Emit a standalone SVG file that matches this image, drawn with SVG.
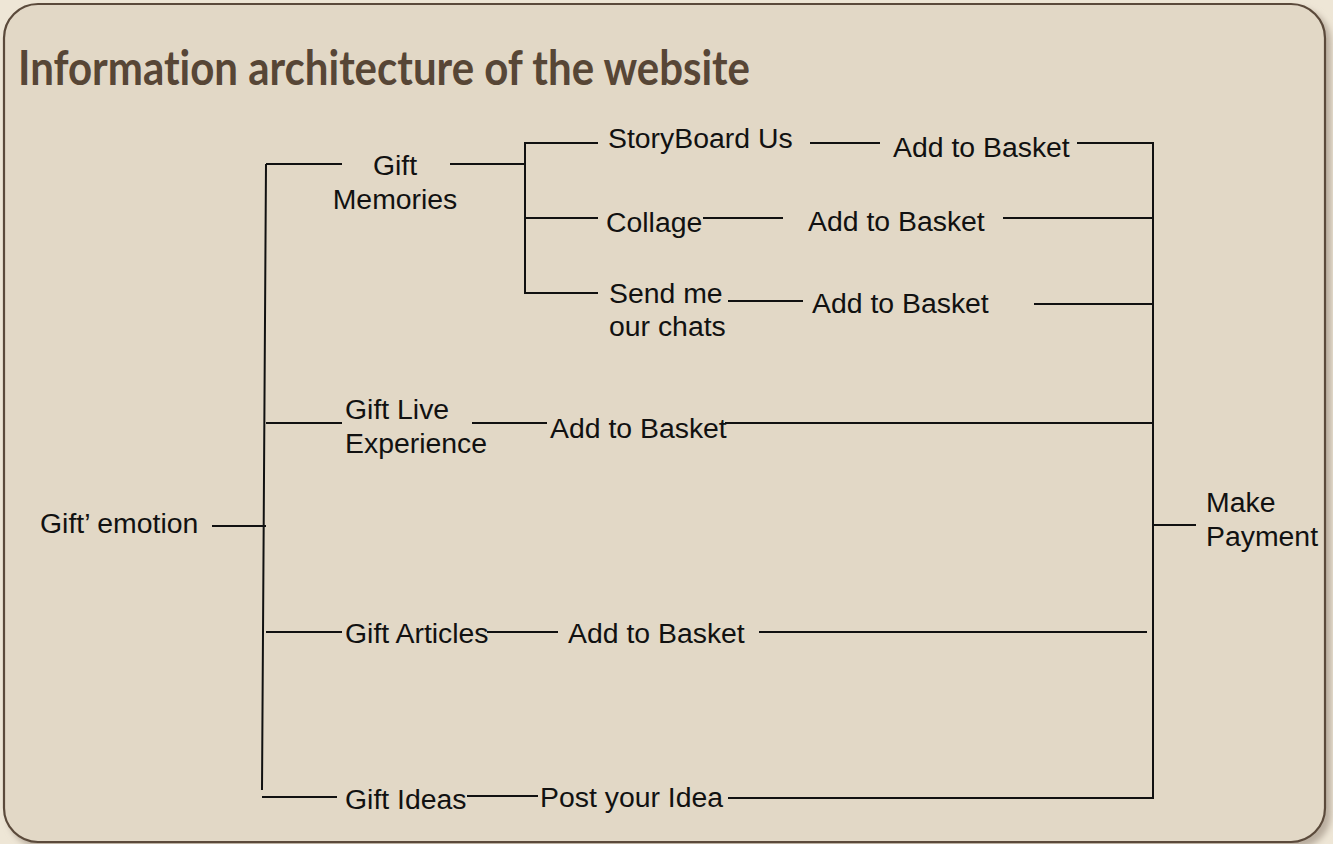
<svg xmlns="http://www.w3.org/2000/svg" width="1333" height="844" viewBox="0 0 1333 844">
  <defs>
    <filter id="panelShadow" x="-5%" y="-5%" width="110%" height="110%">
      <feGaussianBlur stdDeviation="3"/>
    </filter>
  </defs>
  <style>
    .panel { fill: #e2d8c6; stroke: #5b4a3b; stroke-width: 2.2; }
    .title { font-family: Lato, "Open Sans", "Liberation Sans", sans-serif; font-weight: 700; font-size: 48px; fill: #574636; font-variant-ligatures: none; }
    .lbl { font-family: "Liberation Sans", Arial, sans-serif; font-size: 28.4px; fill: #111111; }
    .mid { text-anchor: middle; }
    .wire { fill: none; stroke: #111111; stroke-width: 2; stroke-linecap: butt; }
  </style>

  <!-- page background and framed panel -->
  <rect x="0" y="0" width="1333" height="844" fill="#eee6d6"/>
  <rect x="8" y="8" width="1323" height="840" rx="34" fill="#b9ad9f" filter="url(#panelShadow)"/>
  <rect class="panel" x="4" y="4" width="1321" height="838" rx="34"/>

  <text class="title" x="18" y="85" textLength="732" lengthAdjust="spacingAndGlyphs">Information architecture of the website</text>

  <!-- connectors -->
  <g id="connectors">
    <path class="wire" d="M266 164 L262 790
      M266 164 H342
      M450 164 H525
      M525 142 V294
      M525 143 H598
      M525 218 H598
      M525 293 H598
      M810 143 H880
      M1077 143 H1154
      M703 218 H783
      M1003 218 H1153
      M728 301 H803
      M1034 304 H1153
      M1153 142 V799
      M266 423 H342
      M472 423 H547
      M725 423 H1153
      M212 526 H266
      M1153 525 H1196
      M266 632 H342
      M487 632 H558
      M759 632 H1147
      M262 797 H337
      M467 796 H538
      M728 798 H1153"/>
  </g>

  <!-- nodes -->
  <g id="gift-emotion"><text class="lbl" x="40" y="533">Gift’ emotion</text></g>

  <g id="gift-memories">
    <text class="lbl mid" x="395" y="175">Gift</text>
    <text class="lbl mid" x="395" y="209">Memories</text>
  </g>
  <g id="storyboard-us"><text class="lbl" x="608" y="148">StoryBoard Us</text></g>
  <g id="basket-storyboard"><text class="lbl" x="893" y="157">Add to Basket</text></g>
  <g id="collage"><text class="lbl" x="606" y="232">Collage</text></g>
  <g id="basket-collage"><text class="lbl" x="808" y="231">Add to Basket</text></g>
  <g id="send-chats">
    <text class="lbl" x="609" y="303">Send me</text>
    <text class="lbl" x="609" y="336">our chats</text>
  </g>
  <g id="basket-chats"><text class="lbl" x="812" y="313">Add to Basket</text></g>

  <g id="gift-live">
    <text class="lbl" x="345" y="419">Gift Live</text>
    <text class="lbl" x="345" y="453">Experience</text>
  </g>
  <g id="basket-live"><text class="lbl" x="550" y="438">Add to Basket</text></g>

  <g id="gift-articles"><text class="lbl" x="345" y="643">Gift Articles</text></g>
  <g id="basket-articles"><text class="lbl" x="568" y="643">Add to Basket</text></g>

  <g id="gift-ideas"><text class="lbl" x="345" y="809">Gift Ideas</text></g>
  <g id="post-idea"><text class="lbl" x="540" y="807">Post your Idea</text></g>

  <g id="make-payment">
    <text class="lbl" x="1206" y="512">Make</text>
    <text class="lbl" x="1206" y="546">Payment</text>
  </g>
</svg>
